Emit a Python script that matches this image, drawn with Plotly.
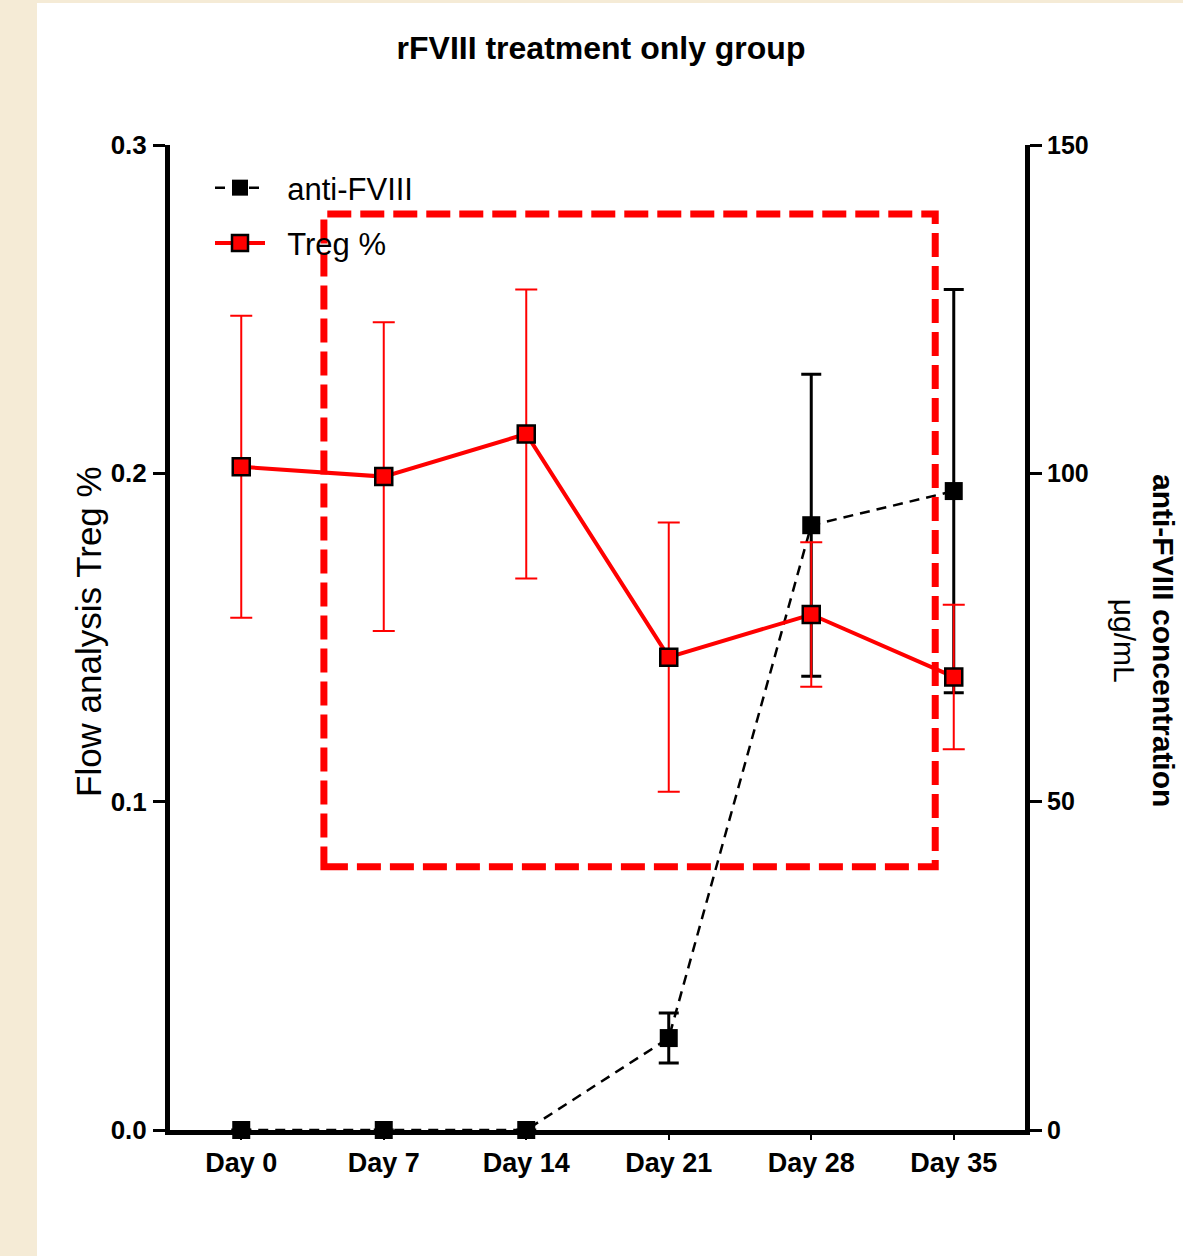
import plotly.graph_objects as go

# ---- data ----
days = ["Day 0", "Day 7", "Day 14", "Day 21", "Day 28", "Day 35"]
treg_pct = [0.202, 0.199, 0.212, 0.144, 0.157, 0.138]
treg_err = [0.046, 0.047, 0.044, 0.041, 0.022, 0.022]
anti_fviii = [0, 0, 0, 14.0, 92.1, 97.3]
anti_fviii_err = [None, None, None, 3.8, 23.0, 30.7]

left_ticks = [0.0, 0.1, 0.2, 0.3]
right_ticks = [0, 50, 100, 150]

# highlight box (category index / left-axis units)
box_x = [0.58, 4.87]
box_y = [0.0802, 0.279]

FONT = "Liberation Sans, Arial, sans-serif"
NBSP = "\u00a0"
W, H = 1183, 1256
L, R, T, B = 170, 158, 145, 126
PW, PH = W - L - R, H - T - B


def px(xp):
    return (xp - L) / PW


def py(yp):
    return (H - B - yp) / PH


fig = go.Figure()

fig.add_trace(go.Scatter(
    x=days, y=anti_fviii, name=NBSP * 2 + "anti-FVIII", yaxis="y", legendgroup="a",
    mode="lines+markers", cliponaxis=False,
    line=dict(color="black", width=2.5, dash="10px,7px"),
    marker=dict(symbol="square", size=18, color="black"),
    error_y=dict(type="data", array=anti_fviii_err, color="black",
                 thickness=3, width=10),
))

fig.add_trace(go.Scatter(
    x=days, y=treg_pct, name=NBSP * 2 + "Treg %", yaxis="y2", legendgroup="b",
    mode="lines+markers", cliponaxis=False,
    line=dict(color="#FF0000", width=4),
    marker=dict(symbol="square", size=17, color="#FF0000",
                line=dict(color="black", width=2.5)),
    error_y=dict(type="data", array=treg_err, color="#FF0000",
                 thickness=2, width=11),
))

fig.update_layout(
    width=W, height=H,
    margin=dict(l=L, r=R, t=T, b=B),
    paper_bgcolor="#F5EBD6",
    plot_bgcolor="white",
    font=dict(family=FONT, color="black"),
    title=dict(text="<b>rFVIII treatment only group</b>", x=601 / W, xref="container",
               xanchor="center", y=1 - 48 / H, yref="container", yanchor="middle",
               font=dict(size=32, family=FONT, color="black")),
    xaxis=dict(type="category", range=[-0.5, 5.5], showline=True, linecolor="black",
               linewidth=5, ticks="outside", ticklen=5, tickwidth=2, tickcolor="black",
               showgrid=False, zeroline=False,
               tickfont=dict(size=27, family=FONT, weight="bold")),
    yaxis=dict(side="right", range=[0, 150], tickvals=right_ticks, showline=True,
               linecolor="black", linewidth=5, ticks="outside", ticklen=12,
               tickwidth=3, tickcolor="black", showgrid=False, zeroline=False,
               ticklabelstandoff=0,
               tickfont=dict(size=25, family=FONT, weight="bold")),
    yaxis2=dict(side="left", overlaying="y", range=[0, 0.3], tickvals=left_ticks,
                tickformat=".1f", showline=True, linecolor="black", linewidth=5,
                ticks="outside", ticklen=12, tickwidth=3, tickcolor="black",
                showgrid=False, zeroline=False, ticklabelstandoff=1,
                tickfont=dict(size=26, family=FONT, weight="bold")),
    showlegend=True,
    legend=dict(x=px(210), y=py(161), xanchor="left", yanchor="top",
                bgcolor="rgba(0,0,0,0)", itemwidth=50, tracegroupgap=12,
                traceorder="grouped",
                font=dict(size=31, family=FONT, color="black")),
    shapes=[
        dict(type="rect", xref="paper", yref="paper", layer="below",
             x0=px(37), x1=px(W) + 0.02, y0=py(H) - 0.02, y1=py(3),
             fillcolor="white", line=dict(width=0)),
        dict(type="rect", xref="x", yref="y2", layer="above",
             x0=box_x[0], x1=box_x[1], y0=box_y[0], y1=box_y[1],
             line=dict(color="#FF0000", width=7, dash="24px,9px"),
             fillcolor="rgba(0,0,0,0)"),
    ],
    annotations=[
        dict(text="Flow analysis Treg %", xref="paper", yref="paper",
             x=px(88), y=py(632), textangle=-90, showarrow=False,
             xanchor="center", yanchor="middle",
             font=dict(size=35, family=FONT, color="black")),
        dict(text="<b>anti-FVIII concentration</b><br>μg/mL", xref="paper", yref="paper",
             x=px(1144), y=py(640), textangle=90, showarrow=False,
             xanchor="center", yanchor="middle",
             font=dict(size=30, family=FONT, color="black")),
    ],
)

fig.write_html(
    "out.html",
    config={"displayModeBar": False},
    post_script="document.body.style.margin='0';document.body.style.padding='0';",
)
